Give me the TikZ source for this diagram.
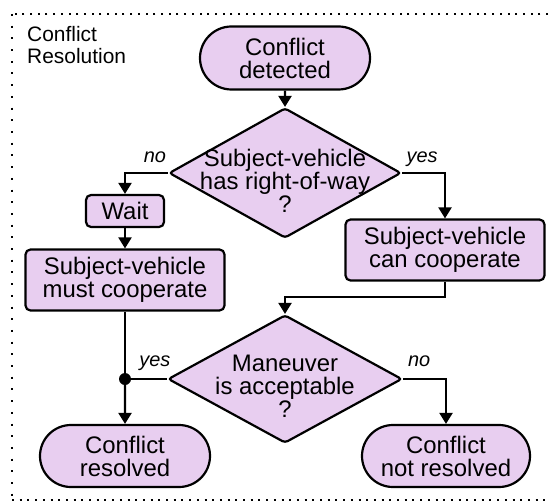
\documentclass[tikz,border=0pt]{standalone}
\usepackage{fontspec}
\setmainfont{Liberation Sans}
\usetikzlibrary{shapes.geometric,shapes.misc,arrows.meta,calc}
\definecolor{boxfill}{RGB}{232,206,240}
\begin{document}
\begin{tikzpicture}[x=1bp,y=-1bp,
  every node/.style={inner sep=0pt},
  flowtext/.style={font=\fontsize{24}{23}\selectfont, align=center},
  terminal/.style={rounded rectangle, draw, line width=2.2bp, fill=boxfill, flowtext},
  process/.style={rectangle, rounded corners=5bp, draw, line width=2.2bp, fill=boxfill, flowtext},
  decision/.style={diamond, draw, line width=2.2bp, fill=boxfill, rounded corners=3bp},
  branch/.style={font=\fontsize{20}{22}\selectfont\itshape},
  flow/.style={line width=2.2bp, -{Triangle[width=13bp,length=11bp]}},
  link/.style={line width=2.2bp},
  framedots/.style={line width=2bp, dash pattern=on 2bp off 5.7bp},
  framedotsv/.style={line width=2bp, dash pattern=on 2bp off 9.7bp}
]
\useasboundingbox (0,0) rectangle (551,501);

% dotted frame around the flowchart
\draw[framedots] (548,14) -- (12,14);
\draw[framedotsv] (12,14) -- (12,500);
\draw[framedots] (12,500) -- (548,500);
\node[anchor=north west, align=left, font=\fontsize{21}{22}\selectfont] (title) at (27,26) {Conflict\\Resolution};

% nodes
\node[terminal, minimum width=170bp, minimum height=63bp] (start) at (285,58) {Conflict\\detected};
\node[decision, minimum width=232bp, minimum height=130bp] (d1) at (285,173) {};
\node[flowtext] (d1text) at ($(d1.center)+(0,-8bp)$) {Subject-vehicle\\has right-of-way\\?};
\node[process, minimum width=78bp, minimum height=32bp] (wait) at (125,211) {Wait};
\node[process, minimum width=199bp, minimum height=61bp] (must) at (125,280) {Subject-vehicle\\must cooperate};
\node[process, minimum width=199bp, minimum height=61bp] (can) at (445,250) {Subject-vehicle\\can cooperate};
\node[decision, minimum width=234bp, minimum height=128bp] (d2) at (285,379) {};
\node[flowtext] (d2text) at ($(d2.center)+(0,-7bp)$) {Maneuver\\is acceptable\\?};
\node[terminal, minimum width=170bp, minimum height=62bp] (res) at (125,456) {Conflict\\resolved};
\node[terminal, minimum width=168bp, minimum height=62bp] (notres) at (446,456) {Conflict\\not resolved};
\node[circle, fill, minimum size=12bp] (junction) at (must.south |- d2.west) {};

% connectors
\draw[flow] (start) -- (d1);
\draw[flow] (d1.west) -| (wait.north);
\draw[flow] (wait) -- (must);
\draw[flow] (d1.east) -| (can.north);
\draw[flow] (can.south) -- ++(0,15) -| (d2.north);
\draw[link] (must) -- (junction);
\draw[link] (d2.west) -- (junction);
\draw[flow] (junction) -- (res);
\draw[flow] (d2.east) -| (notres.north);

% branch labels
\node[branch, anchor=base] (no1) at ($(d1.west)+(-13bp,10bp)$) {no};
\node[branch, anchor=base] (yes1) at ($(d1.east)+(20bp,10bp)$) {yes};
\node[branch, anchor=base] (yes2) at ($(d2.west)+(-12bp,13bp)$) {yes};
\node[branch, anchor=base] (no2) at ($(d2.east)+(16bp,13bp)$) {no};
\end{tikzpicture}
\end{document}
